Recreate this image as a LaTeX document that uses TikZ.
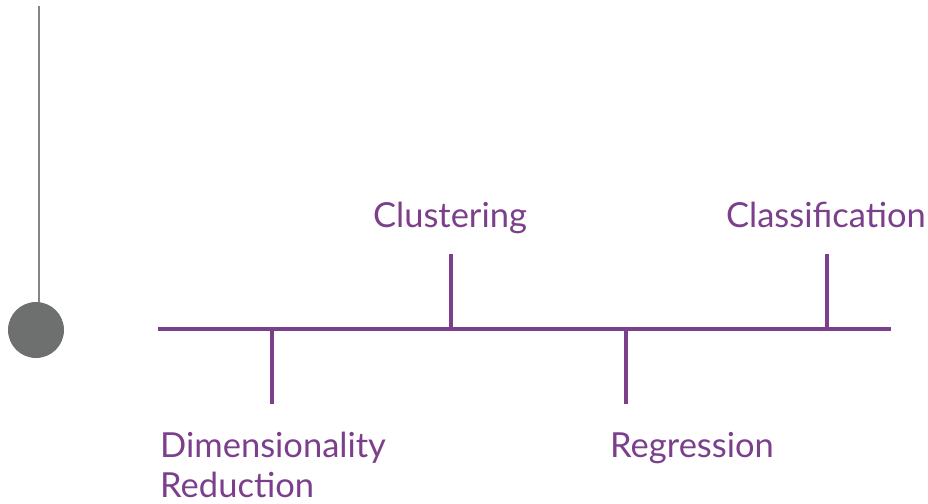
\documentclass[tikz,border=0pt]{standalone}
\usepackage{fontspec}
\setmainfont{Lato}
\definecolor{plum}{HTML}{7B3F8C}
\definecolor{stone}{HTML}{6E6F6F}
\tikzstyle{axis}=[draw=plum, line width=4pt]
\tikzstyle{tick}=[draw=plum, line width=3.5pt]
\tikzstyle{lbl}=[text=plum, inner sep=0pt, font=\fontsize{34.5}{40}\selectfont]

\begin{document}
\begin{tikzpicture}[x=1pt, y=-1pt]
    \useasboundingbox (0,0) rectangle (928,503);
    \node[circle, fill=stone, minimum size=56pt, inner sep=0pt] (bob) at (36, 330) {};
    \coordinate (pivot) at (39, 6);
    \draw[line width=2.5pt, color=stone!85!white] (pivot) -- (bob.north -| pivot);
    \coordinate (axstart) at (158, 329);
    \coordinate (axend) at (891, 329);
    \draw[axis] (axstart) -- (axend);
    \coordinate (dimbase) at (272, 329);
    \coordinate (dimend) at (272, 404);
    \coordinate (clubase) at (451, 329);
    \coordinate (cluend) at (451, 254);
    \coordinate (regbase) at (626, 329);
    \coordinate (regend) at (626, 404);
    \coordinate (clabase) at (827, 329);
    \coordinate (claend) at (827, 254);
    \draw[tick] (dimbase) -- (dimend);
    \draw[tick] (clubase) -- (cluend);
    \draw[tick] (regbase) -- (regend);
    \draw[tick] (clabase) -- (claend);
    \node[lbl, anchor=base] (clustering) at (450, 227) {Clustering};
    \node[lbl, anchor=base] (classification) at (826, 227) {Classification};
    \node[lbl, anchor=base west] (regression) at (610, 457) {Regression};
    \node[lbl, anchor=base west, align=left] (dimred) at (160, 497) {Dimensionality\\Reduction};
  \end{tikzpicture}
\end{document}
